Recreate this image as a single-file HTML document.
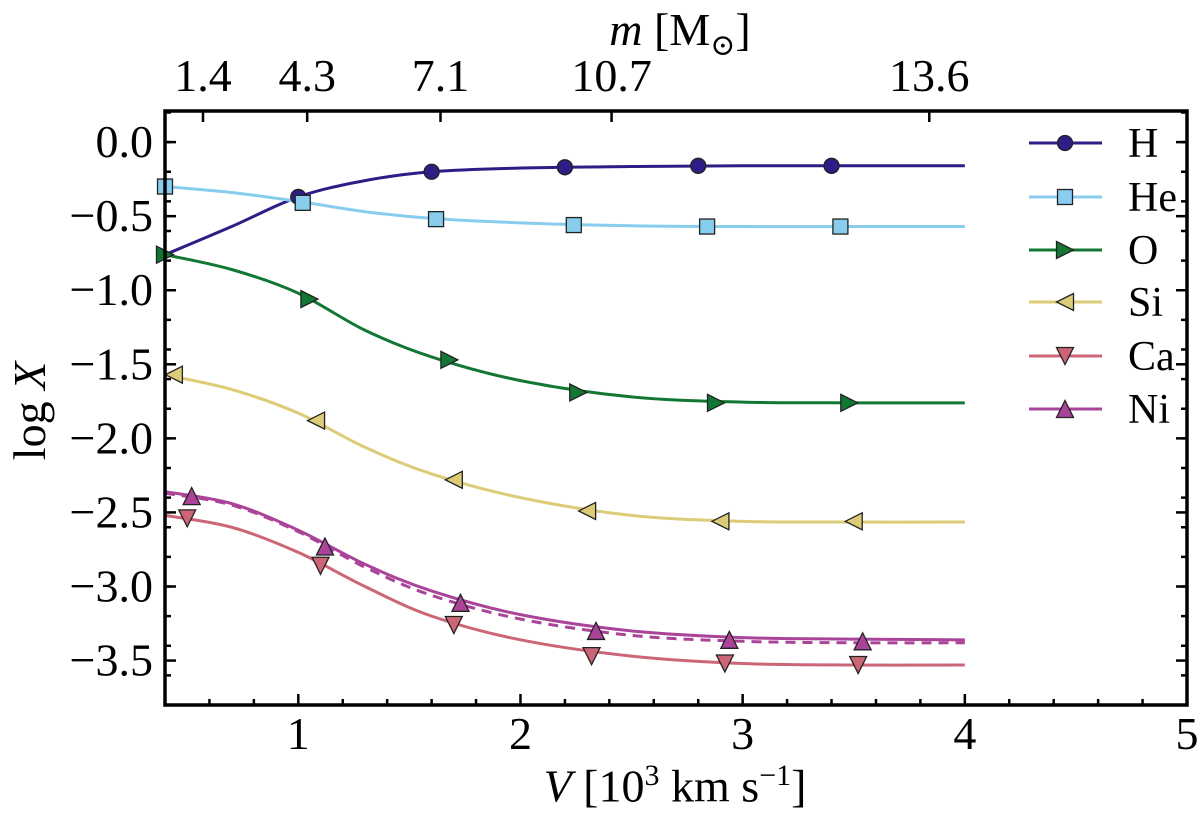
<!DOCTYPE html>
<html><head><meta charset="utf-8"><style>
html,body{margin:0;padding:0;background:#fff;}
svg{display:block;font-family:"Liberation Serif","DejaVu Serif",serif;}
</style></head><body>
<svg id="chart" width="1200" height="819" viewBox="0 0 1200 819">
<g id="plot"></g>
<g id="axes"></g>
<g id="legend"></g>
</svg>
<script>
const xTicks=[1,2,3,4,5];
const yTicks=[0,-0.5,-1,-1.5,-2,-2.5,-3,-3.5];
const yTickLabels=["0.0","\u22120.5","\u22121.0","\u22121.5","\u22122.0","\u22122.5","\u22123.0","\u22123.5"];
const topTickV=[0.571,1.04,1.64,2.41,3.84];
const topTickLabels=["1.4","4.3","7.1","10.7","13.6"];
const seriesNames=["H","He","O","Si","Ca","Ni"];
const curveV=[0.4,0.7,1.0,1.3,1.6,2.0,2.5,3.0,3.5,4.0];
const curveH=[-0.76,-0.57,-0.37,-0.26,-0.2,-0.175,-0.165,-0.16,-0.16,-0.16];
const curveHe=[-0.30,-0.34,-0.40,-0.47,-0.515,-0.545,-0.565,-0.57,-0.57,-0.57];
const curveO=[-0.76,-0.86,-1.02,-1.27,-1.45,-1.61,-1.72,-1.755,-1.76,-1.76];
const curveSi=[-1.57,-1.67,-1.83,-2.06,-2.24,-2.40,-2.52,-2.56,-2.565,-2.565];
const curveCa=[-2.52,-2.6,-2.77,-3.0,-3.2,-3.36,-3.47,-3.52,-3.53,-3.53];
const curveNi=[-2.36,-2.44,-2.62,-2.85,-3.03,-3.19,-3.3,-3.345,-3.355,-3.36];
const curveNiDash=[-2.37,-2.45,-2.63,-2.87,-3.06,-3.22,-3.33,-3.37,-3.38,-3.38];
const markV={H:[1.0,1.6,2.2,2.8,3.4],He:[0.4,1.02,1.62,2.24,2.84,3.44],O:[0.4,1.05,1.68,2.26,2.88,3.48],Si:[0.44,1.08,1.7,2.3,2.9,3.5],Ca:[0.5,1.1,1.7,2.32,2.92,3.52],Ni:[0.52,1.12,1.73,2.34,2.94,3.54]};
const markY={H:[-0.37,-0.2,-0.17,-0.16,-0.16],He:[-0.30,-0.41,-0.52,-0.56,-0.57,-0.57],O:[-0.76,-1.06,-1.47,-1.69,-1.76,-1.76],Si:[-1.57,-1.88,-2.28,-2.49,-2.56,-2.56],Ca:[-2.54,-2.86,-3.26,-3.47,-3.52,-3.53],Ni:[-2.39,-2.73,-3.11,-3.30,-3.36,-3.37]};
const colors={H:"#2d1d86",He:"#88ccee",O:"#117733",Si:"#ddcc77",Ca:"#cc6677",Ni:"#aa4499"};
const shapes={H:"circle",He:"square",O:"right",Si:"left",Ca:"down",Ni:"up"};
const curves={H:curveH,He:curveHe,O:curveO,Si:curveSi,Ca:curveCa,Ni:curveNi};

const L=165,R=1187,T=111,B=705,xMin=0.4,xMax=5,yMin=-3.8,yMax=0.21;
const sx=v=>L+(v-xMin)/(xMax-xMin)*(R-L);
const sy=v=>B-(v-yMin)/(yMax-yMin)*(B-T);
const NS="http://www.w3.org/2000/svg";
function mk(tag,attrs,parent){const e=document.createElementNS(NS,tag);for(const k in attrs)e.setAttribute(k,attrs[k]);parent.appendChild(e);return e;}
const plot=document.getElementById('plot'),axes=document.getElementById('axes'),leg=document.getElementById('legend');

function pathFrom(xs,ys){
  const p=xs.map((x,i)=>[sx(x),sy(ys[i])]);
  let d=`M${p[0][0]},${p[0][1]}`;
  for(let i=0;i<p.length-1;i++){
    const p0=p[Math.max(0,i-1)],p1=p[i],p2=p[i+1],p3=p[Math.min(p.length-1,i+2)];
    const c1=[p1[0]+(p2[0]-p0[0])/6,p1[1]+(p2[1]-p0[1])/6];
    const c2=[p2[0]-(p3[0]-p1[0])/6,p2[1]-(p3[1]-p1[1])/6];
    d+=` C${c1[0]},${c1[1]} ${c2[0]},${c2[1]} ${p2[0]},${p2[1]}`;
  }
  return d;
}
function marker(parent,shape,cx,cy,col){
  const s=8.5,st={fill:col,stroke:"#222","stroke-width":1.3};
  let e;
  if(shape==="circle")e=mk('circle',Object.assign({cx,cy,r:7.5},st),parent);
  else if(shape==="square")e=mk('rect',Object.assign({x:cx-7.5,y:cy-7.5,width:15,height:15},st),parent);
  else{
    let pts;
    if(shape==="right")pts=[[cx-s,cy-s],[cx+s,cy],[cx-s,cy+s]];
    if(shape==="left")pts=[[cx+s,cy-s],[cx-s,cy],[cx+s,cy+s]];
    if(shape==="down")pts=[[cx-s,cy-s],[cx+s,cy-s],[cx,cy+s]];
    if(shape==="up")pts=[[cx-s,cy+s],[cx+s,cy+s],[cx,cy-s]];
    e=mk('polygon',Object.assign({points:pts.map(q=>q.join(',')).join(' ')},st),parent);
  }
  return e;
}
let dsh=mk('path',{d:pathFrom(curveV,curveNiDash),fill:"none",stroke:colors.Ni,"stroke-width":3,"stroke-dasharray":"10,7"},plot);


seriesNames.forEach(n=>{
  const p=mk('path',{d:pathFrom(curveV,curves[n]),fill:"none",stroke:colors[n],"stroke-width":3},plot);
  
  
});
seriesNames.forEach(n=>{
  markV[n].forEach((v,i)=>{
    const m=marker(plot,shapes[n],sx(v),sy(markY[n][i]),colors[n]);
    
    
  });
});
const fr=mk('rect',{x:L,y:T,width:R-L,height:B-T,fill:"none",stroke:"#000","stroke-width":3.5},axes);


for(let v=0.6;v<=5.001;v+=0.2){
  const major=Math.abs(v-Math.round(v))<1e-6;
  mk('line',{x1:sx(v),x2:sx(v),y1:B,y2:B-(major?11:6),stroke:"#000","stroke-width":2.5},axes);
}
xTicks.forEach(v=>{
  const t=mk('text',{x:sx(v),y:B+44,"font-size":46,"text-anchor":"middle"},axes);t.textContent=v;
  
  
});
for(let k=-19;k<=1;k++){
  const v=k*0.2;
  mk('line',{x1:L,x2:L+6,y1:sy(v),y2:sy(v),stroke:"#000","stroke-width":2.5},axes);
  mk('line',{x1:R,x2:R-6,y1:sy(v),y2:sy(v),stroke:"#000","stroke-width":2.5},axes);
}
yTicks.forEach((v,i)=>{
  mk('line',{x1:L,x2:L+11,y1:sy(v),y2:sy(v),stroke:"#000","stroke-width":2.5},axes);
  mk('line',{x1:R,x2:R-11,y1:sy(v),y2:sy(v),stroke:"#000","stroke-width":2.5},axes);
  const t=mk('text',{x:L-12,y:sy(v)+15,"font-size":46,"text-anchor":"end"},axes);t.textContent=yTickLabels[i];
  
  
});
topTickV.forEach((v,i)=>{
  mk('line',{x1:sx(v),x2:sx(v),y1:T,y2:T+11,stroke:"#000","stroke-width":2.5},axes);
  const t=mk('text',{x:sx(v),y:T-20,"font-size":46,"text-anchor":"middle"},axes);t.textContent=topTickLabels[i];
  
  
});
const rowsY=[143,197,250,302,356,409];
seriesNames.forEach((n,i)=>{
  const g=mk('g',{},leg);
  
  
  mk('line',{x1:1029,x2:1102,y1:rowsY[i],y2:rowsY[i],stroke:colors[n],"stroke-width":3},g);
  marker(g,shapes[n],1065,rowsY[i],colors[n]);
  const t=mk('text',{x:1128,y:rowsY[i]+14,"font-size":42},g);t.textContent=n;
});
</script>
<div style="position:absolute;left:0;top:0;width:1200px;height:819px;pointer-events:none;font-family:'Liberation Serif','DejaVu Serif',serif;">
  <div style="position:absolute;left:0;width:1200px;top:750px;text-align:center;font-size:46px;line-height:52px;padding-left:150px;box-sizing:border-box;"><i>V</i> [10<sup style="font-size:30px">3</sup> km s<sup style="font-size:30px">&minus;1</sup>]</div>
  <div style="position:absolute;left:540px;width:280px;top:4px;text-align:center;font-size:46px;line-height:52px;"><i>m</i> [M<sub style="font-size:30px">&#8857;</sub>]</div>
  <div style="position:absolute;left:-40px;top:385px;width:140px;text-align:center;font-size:46px;line-height:52px;transform:rotate(-90deg);">log <i>X</i></div>
</div>
</body></html>
